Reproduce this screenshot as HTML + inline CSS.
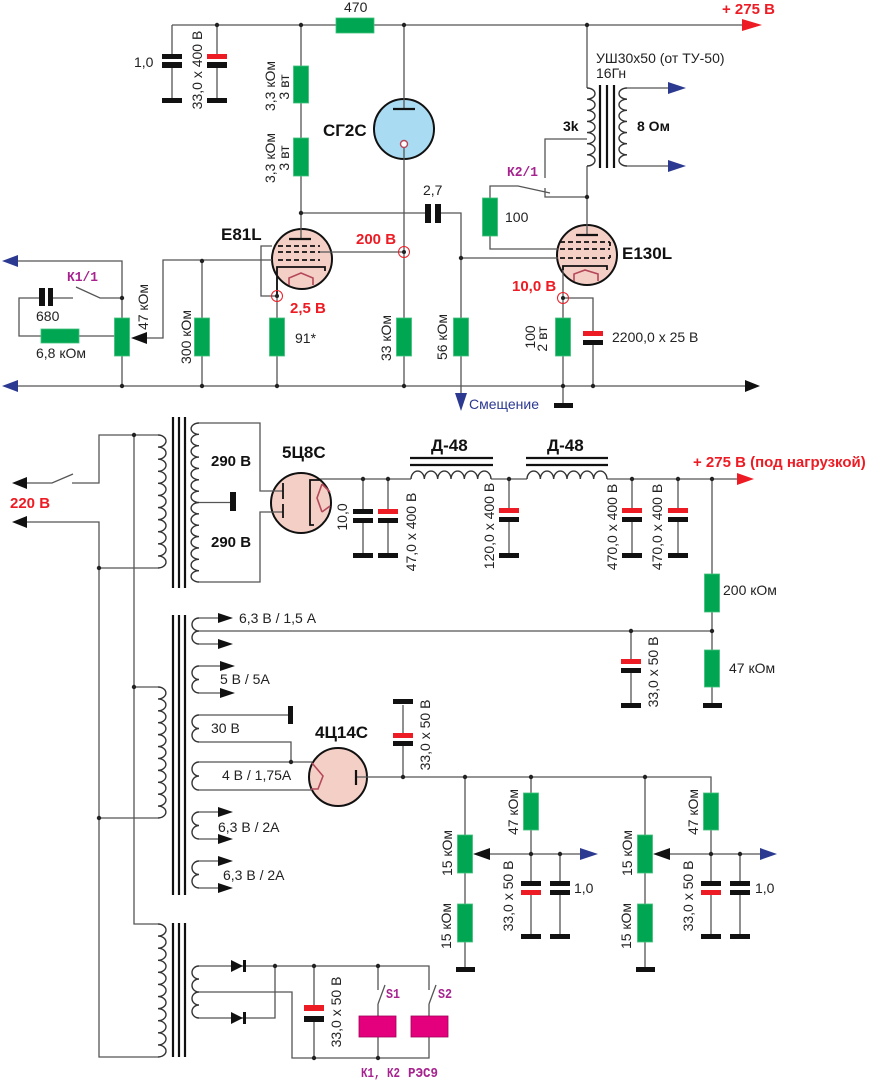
<!DOCTYPE html>
<html><head><meta charset="utf-8">
<style>
html,body{margin:0;padding:0;background:#fff;}
svg{display:block;}
.t{font-family:"Liberation Sans",Arial,sans-serif;font-size:14px;fill:#222;}
.b{font-family:"Liberation Sans",Arial,sans-serif;font-size:17px;font-weight:bold;fill:#111;}
.bm{font-family:"Liberation Sans",Arial,sans-serif;font-size:15px;font-weight:bold;fill:#111;}
.r{font-family:"Liberation Sans",Arial,sans-serif;font-size:15px;font-weight:bold;fill:#ed1c24;}
.k{font-family:"Liberation Mono",monospace;font-size:14px;font-weight:bold;fill:#a6228f;}
.bl{font-family:"Liberation Sans",Arial,sans-serif;font-size:14px;fill:#2b3990;}
</style></head>
<body>
<svg width="871" height="1080" viewBox="0 0 871 1080" xmlns="http://www.w3.org/2000/svg">
<rect width="871" height="1080" fill="#fff"/>

<!-- tube bodies -->
<circle cx="404" cy="129" r="30" fill="#a9dcf3" stroke="#111" stroke-width="2"/>
<circle cx="302" cy="259" r="30" fill="#f4cfc6" stroke="#111" stroke-width="2"/>
<circle cx="587" cy="255" r="30" fill="#f4cfc6" stroke="#111" stroke-width="2"/>
<circle cx="301" cy="503" r="30" fill="#f4cfc6" stroke="#111" stroke-width="2"/>
<circle cx="338" cy="777" r="29" fill="#f4cfc6" stroke="#111" stroke-width="2"/>

<!-- wires -->
<g fill="none" stroke="#555" stroke-width="1.3">
 <path d="M172 25H742"/>
 <path d="M172 25V54M172 67V98"/>
 <path d="M217 25V54M217 67V98"/>
 <path d="M301 25V239"/>
 <path d="M404 25V109"/>
 <path d="M404 148V386"/>
 <path d="M587 25V88"/>
 <path d="M587 166V235"/>
 <path d="M587 139H545V178M545 188V197H587"/>
 <path d="M490 198V186H518L550 193"/>
 <path d="M301 213H425M441 213H461V395"/>
 <path d="M461 258H558"/>
 <path d="M490 236V249H558"/>
 <path d="M320 252H404"/>
 <path d="M272 246H261V296H277"/>
 <path d="M272 260H163V338H147"/>
 <path d="M18 261H122V386"/>
 <path d="M122 298H100L76 287M73 298H53M39 298H19V336H41M79 336H115"/>
 <path d="M202 261V386"/>
 <path d="M277 267V386"/>
 <path d="M563 266V403"/>
 <path d="M563 298H593V331M593 345V386"/>
 <path d="M18 386H745"/>
 <path d="M627 88H668M627 166H668"/>

 <!-- power section -->
 <path d="M27 483H52L73 474"/>
 <path d="M72 483H99V435H158"/>
 <path d="M27 522H99V1057H158"/>
 <path d="M99 568H158"/>
 <path d="M134 435V924H158"/>
 <path d="M134 687H158"/>
 <path d="M99 818H158"/>
 <path d="M199 423H260V491H283"/>
 <path d="M199 502.5H230"/>
 <path d="M199 582H260V512H283"/>
 <path d="M320 479H411M491 479H527M607 479H737"/>
 <path d="M363 479V509M363 523V553"/>
 <path d="M388 479V509M388 523V553"/>
 <path d="M509 479V508M509 522V553"/>
 <path d="M632 479V508M632 522V553"/>
 <path d="M678 479V508M678 522V553"/>
 <path d="M712 479V704"/>
 <path d="M199 631H712"/>
 <path d="M631 631V659M631 672V703"/>
 <path d="M199 618H220M199 644H220"/>
 <path d="M199 666H222M199 693H222"/>
 <path d="M199 715H288"/>
 <path d="M199 742H291V762"/>
 <path d="M199 762H312M199 790H312"/>
 <path d="M199 812H220M199 839H220M199 861H220M199 888H220"/>
 <path d="M356 777H711V881M711 895V934"/>
 <path d="M403 777V746M403 733V705"/>
 <path d="M465 777V967"/>
 <path d="M531 777V881M531 895V934"/>
 <path d="M560 854V881M560 895V934"/>
 <path d="M490 854H580"/>
 <path d="M645 777V967"/>
 <path d="M740 854V881M740 895V934"/>
 <path d="M670 854H760"/>
 <path d="M199 966H429V990"/>
 <path d="M199 1018H275V966"/>
 <path d="M199 992H292V1058H429V1037"/>
 <path d="M378 1037V1058"/>
 <path d="M314 966V1005M314 1022V1058"/>
 <path d="M378 966V990M378 1004L385 985M378 1004V1016"/>
 <path d="M429 1004L436 985M429 1004V1016"/>
</g>

<!-- coils -->
<g fill="none" stroke="#333" stroke-width="1.4">
 <path d="M587 88a8 5.571 0 0 1 0 11.143a8 5.571 0 0 1 0 11.143a8 5.571 0 0 1 0 11.143a8 5.571 0 0 1 0 11.143a8 5.571 0 0 1 0 11.143a8 5.571 0 0 1 0 11.143a8 5.571 0 0 1 0 11.143"/>
 <path d="M627 88a8 5.571 0 0 0 0 11.143a8 5.571 0 0 0 0 11.143a8 5.571 0 0 0 0 11.143a8 5.571 0 0 0 0 11.143a8 5.571 0 0 0 0 11.143a8 5.571 0 0 0 0 11.143a8 5.571 0 0 0 0 11.143"/>
 <path d="M158 435a8 6.045 0 0 1 0 12.09a8 6.045 0 0 1 0 12.09a8 6.045 0 0 1 0 12.09a8 6.045 0 0 1 0 12.09a8 6.045 0 0 1 0 12.09a8 6.045 0 0 1 0 12.09a8 6.045 0 0 1 0 12.09a8 6.045 0 0 1 0 12.09a8 6.045 0 0 1 0 12.09a8 6.045 0 0 1 0 12.09a8 6.045 0 0 1 0 12.09"/>
 <path d="M199 423a8 5.679 0 0 0 0 11.357a8 5.679 0 0 0 0 11.357a8 5.679 0 0 0 0 11.357a8 5.679 0 0 0 0 11.357a8 5.679 0 0 0 0 11.357a8 5.679 0 0 0 0 11.357a8 5.679 0 0 0 0 11.357a8 5.679 0 0 0 0 11.357a8 5.679 0 0 0 0 11.357a8 5.679 0 0 0 0 11.357a8 5.679 0 0 0 0 11.357a8 5.679 0 0 0 0 11.357a8 5.679 0 0 0 0 11.357a8 5.679 0 0 0 0 11.357"/>
 <path d="M158 687a8 5.955 0 0 1 0 11.909a8 5.955 0 0 1 0 11.909a8 5.955 0 0 1 0 11.909a8 5.955 0 0 1 0 11.909a8 5.955 0 0 1 0 11.909a8 5.955 0 0 1 0 11.909a8 5.955 0 0 1 0 11.909a8 5.955 0 0 1 0 11.909a8 5.955 0 0 1 0 11.909a8 5.955 0 0 1 0 11.909a8 5.955 0 0 1 0 11.909"/>
 <path d="M199 618a7 6.5 0 0 0 0 13a7 6.5 0 0 0 0 13"/>
 <path d="M199 666a7 6.75 0 0 0 0 13.5a7 6.75 0 0 0 0 13.5"/>
 <path d="M199 715a7 6.75 0 0 0 0 13.5a7 6.75 0 0 0 0 13.5"/>
 <path d="M199 762a7 7 0 0 0 0 14a7 7 0 0 0 0 14"/>
 <path d="M199 812a7 6.75 0 0 0 0 13.5a7 6.75 0 0 0 0 13.5"/>
 <path d="M199 861a7 6.75 0 0 0 0 13.5a7 6.75 0 0 0 0 13.5"/>
 <path d="M158 924a8 6.045 0 0 1 0 12.09a8 6.045 0 0 1 0 12.09a8 6.045 0 0 1 0 12.09a8 6.045 0 0 1 0 12.09a8 6.045 0 0 1 0 12.09a8 6.045 0 0 1 0 12.09a8 6.045 0 0 1 0 12.09a8 6.045 0 0 1 0 12.09a8 6.045 0 0 1 0 12.09a8 6.045 0 0 1 0 12.09a8 6.045 0 0 1 0 12.09"/>
 <path d="M199 966a7 6.5 0 0 0 0 13a7 6.5 0 0 0 0 13a7 6.5 0 0 0 0 13a7 6.5 0 0 0 0 13"/>
 <path d="M411 479a6.667 8 0 0 1 13.333 0a6.667 8 0 0 1 13.333 0a6.667 8 0 0 1 13.333 0a6.667 8 0 0 1 13.333 0a6.667 8 0 0 1 13.333 0a6.667 8 0 0 1 13.333 0"/>
 <path d="M527 479a6.667 8 0 0 1 13.333 0a6.667 8 0 0 1 13.333 0a6.667 8 0 0 1 13.333 0a6.667 8 0 0 1 13.333 0a6.667 8 0 0 1 13.333 0a6.667 8 0 0 1 13.333 0"/>
</g>

<!-- cores -->
<g stroke="#111" stroke-width="2.2">
 <path d="M600 85V168M607 85V168M614 85V168"/>
 <path d="M173 417V588M179 417V588M185 417V588"/>
 <path d="M173 615V895M179 615V895M185 615V895"/>
 <path d="M173 923V1057M179 923V1057M185 923V1057"/>
 <path d="M410 458H493M410 465H493"/>
 <path d="M526 458H608M526 465H608"/>
</g>

<!-- tube internals -->
<g fill="none" stroke="#111" stroke-width="1.8">
 <path d="M393 109H415" stroke-width="2.2"/>
 <path d="M289 239H311" stroke-width="2.2"/>
 <path d="M278 246H320M278 252H320M278 260H320" stroke-dasharray="5 3"/>
 <path d="M277 296V267H325V271"/>
 <path d="M576 235H598" stroke-width="2.2"/>
 <path d="M560 242H610M560 249H610M560 258H610" stroke-dasharray="5 3"/>
 <path d="M610 242V246M610 255V258"/>
 <path d="M563 270V266H607V270"/>
 <path d="M283 483V499M283 504V518"/>
 <path d="M321 480H310V525H314"/>
 <path d="M356 770V785" stroke-width="2.2"/>
</g>
<g fill="none" stroke="#b5485a" stroke-width="1.6">
 <path d="M289 285V278L301 273L313 278V285"/>
 <path d="M574 281V274L585 270L598 274V281"/>
 <path d="M322 484L317 498L322 512M322 484L330 492M322 512L330 506"/>
 <path d="M312 763L323 776L318 789L311 789"/>
</g>
<circle cx="404" cy="144" r="3.5" fill="#fff" stroke="#b5485a" stroke-width="1.4"/>

<!-- resistors -->
<g fill="#00a651" stroke="#3fc07a" stroke-width="0.8">
 <rect x="336" y="18" width="38" height="15"/>
 <rect x="293.5" y="66" width="15" height="37"/>
 <rect x="293.5" y="138" width="15" height="38"/>
 <rect x="114.5" y="318" width="15" height="38"/>
 <rect x="194.5" y="318" width="15" height="38"/>
 <rect x="269.5" y="318" width="15" height="38"/>
 <rect x="396.5" y="318" width="15" height="38"/>
 <rect x="453.5" y="318" width="15" height="38"/>
 <rect x="482.5" y="198" width="15" height="38"/>
 <rect x="555.5" y="318" width="15" height="38"/>
 <rect x="41" y="329" width="38" height="14"/>
 <rect x="704.5" y="574" width="15" height="38"/>
 <rect x="704.5" y="650" width="15" height="37"/>
 <rect x="457.5" y="835" width="15" height="38"/>
 <rect x="523.5" y="793" width="15" height="37"/>
 <rect x="457.5" y="904" width="15" height="38"/>
 <rect x="637.5" y="835" width="15" height="38"/>
 <rect x="703.5" y="793" width="15" height="37"/>
 <rect x="637.5" y="904" width="15" height="38"/>
</g>

<!-- capacitors and ground bars -->
<g fill="#111">
 <rect x="162" y="54" width="20" height="5"/><rect x="162" y="62" width="20" height="6"/><rect x="162" y="98" width="20" height="5"/>
 <rect x="207" y="62" width="20" height="6"/><rect x="207" y="98" width="20" height="5"/>
 <rect x="425" y="204" width="6" height="19"/><rect x="435" y="204" width="6" height="19"/>
 <rect x="39" y="288" width="6" height="18"/><rect x="48" y="288" width="5" height="18"/>
 <rect x="583" y="340" width="20" height="5"/>
 <rect x="554" y="403" width="19" height="5"/>
 <rect x="230" y="492" width="6" height="19"/>
 <rect x="288" y="706" width="5" height="18"/>
 <rect x="353" y="509" width="20" height="5"/><rect x="353" y="518" width="20" height="5"/><rect x="353" y="553" width="20" height="5"/>
 <rect x="378" y="518" width="20" height="5"/><rect x="378" y="553" width="20" height="5"/>
 <rect x="499" y="517" width="20" height="5"/><rect x="499" y="553" width="20" height="5"/>
 <rect x="622" y="517" width="20" height="5"/><rect x="622" y="553" width="20" height="5"/>
 <rect x="668" y="517" width="20" height="5"/><rect x="668" y="553" width="20" height="5"/>
 <rect x="621" y="668" width="20" height="5"/><rect x="621" y="703" width="20" height="5"/>
 <rect x="703" y="703" width="19" height="5"/>
 <rect x="393" y="699" width="20" height="5"/><rect x="393" y="741" width="20" height="5"/>
 <rect x="521" y="881" width="20" height="5"/><rect x="521" y="934" width="20" height="5"/>
 <rect x="550" y="881" width="20" height="5"/><rect x="550" y="890" width="20" height="5"/><rect x="550" y="934" width="20" height="5"/>
 <rect x="456" y="967" width="19" height="5"/>
 <rect x="701" y="881" width="20" height="5"/><rect x="701" y="934" width="20" height="5"/>
 <rect x="730" y="881" width="20" height="5"/><rect x="730" y="890" width="20" height="5"/><rect x="730" y="934" width="20" height="5"/>
 <rect x="636" y="967" width="19" height="5"/>
 <rect x="304" y="1016" width="20" height="6"/>
 <polygon points="231,960 231,972 243,966"/><rect x="243" y="960" width="3" height="12"/>
 <polygon points="231,1012 231,1024 243,1018"/><rect x="243" y="1012" width="3" height="12"/>
</g>
<g fill="#ed1c24">
 <rect x="207" y="54" width="20" height="5"/>
 <rect x="583" y="331" width="20" height="5"/>
 <rect x="378" y="509" width="20" height="5"/>
 <rect x="499" y="508" width="20" height="5"/>
 <rect x="622" y="508" width="20" height="5"/>
 <rect x="668" y="508" width="20" height="5"/>
 <rect x="621" y="659" width="20" height="5"/>
 <rect x="393" y="733" width="20" height="5"/>
 <rect x="521" y="890" width="20" height="5"/>
 <rect x="701" y="890" width="20" height="5"/>
 <rect x="304" y="1005" width="20" height="6"/>
</g>

<!-- relays -->
<rect x="359" y="1016" width="37" height="21" fill="#e4007c" stroke="#a0005a" stroke-width="0.8"/>
<rect x="411" y="1016" width="37" height="21" fill="#e4007c" stroke="#a0005a" stroke-width="0.8"/>

<!-- arrows -->
<g fill="#ed1c24">
 <polygon points="742,19 742,31 762,25"/>
 <polygon points="737,473 737,485 754,479"/>
</g>
<g fill="#2b3990">
 <polygon points="668,82 668,94 686,88"/>
 <polygon points="668,160 668,172 686,166"/>
 <polygon points="2,261 18,255 18,267"/>
 <polygon points="2,386 18,380 18,392"/>
 <polygon points="455,393 467,393 461,411"/>
 <polygon points="580,848 580,860 598,854"/>
 <polygon points="760,848 760,860 777,854"/>
</g>
<g fill="#111">
 <polygon points="745,380 745,392 760,386"/>
 <polygon points="12,483 27,477 27,489"/>
 <polygon points="12,522 27,516 27,528"/>
 <polygon points="131,338 147,332 147,344"/>
 <polygon points="473,854 490,848 490,860"/>
 <polygon points="653,854 670,848 670,860"/>
 <polygon points="218,613 218,623 233,618"/>
 <polygon points="218,639 218,649 233,644"/>
 <polygon points="220,661 220,671 235,666"/>
 <polygon points="220,688 220,698 235,693"/>
 <polygon points="218,807 218,817 233,812"/>
 <polygon points="218,834 218,844 233,839"/>
 <polygon points="218,856 218,866 233,861"/>
 <polygon points="218,883 218,893 233,888"/>
</g>

<!-- junction dots -->
<g fill="#222">
 <circle cx="217" cy="25" r="2.2"/><circle cx="301" cy="25" r="2.2"/><circle cx="404" cy="25" r="2.2"/><circle cx="587" cy="25" r="2.2"/>
 <circle cx="301" cy="213" r="2.2"/><circle cx="404" cy="252" r="2"/><circle cx="461" cy="258" r="2.2"/><circle cx="587" cy="197" r="2.2"/>
 <circle cx="122" cy="298" r="2.2"/><circle cx="122" cy="386" r="2.2"/><circle cx="202" cy="261" r="2.2"/><circle cx="202" cy="386" r="2.2"/>
 <circle cx="277" cy="386" r="2.2"/><circle cx="277" cy="296" r="2"/><circle cx="404" cy="386" r="2.2"/><circle cx="563" cy="386" r="2.2"/>
 <circle cx="593" cy="386" r="2.2"/><circle cx="563" cy="298" r="2"/>
 <circle cx="134" cy="435" r="2.2"/><circle cx="99" cy="568" r="2.2"/>
 <circle cx="363" cy="479" r="2.2"/><circle cx="388" cy="479" r="2.2"/><circle cx="509" cy="479" r="2.2"/><circle cx="632" cy="479" r="2.2"/><circle cx="678" cy="479" r="2.2"/><circle cx="712" cy="479" r="2.2"/>
 <circle cx="712" cy="631" r="2.2"/><circle cx="631" cy="631" r="2.2"/><circle cx="134" cy="687" r="2.2"/><circle cx="99" cy="818" r="2.2"/>
 <circle cx="291" cy="762" r="2.2"/><circle cx="403" cy="777" r="2.2"/><circle cx="465" cy="777" r="2.2"/><circle cx="531" cy="777" r="2.2"/><circle cx="645" cy="777" r="2.2"/>
 <circle cx="531" cy="854" r="2.2"/><circle cx="560" cy="854" r="2.2"/><circle cx="711" cy="854" r="2.2"/><circle cx="740" cy="854" r="2.2"/>
 <circle cx="275" cy="966" r="2.2"/><circle cx="314" cy="966" r="2.2"/><circle cx="378" cy="966" r="2.2"/><circle cx="314" cy="1058" r="2.2"/><circle cx="378" cy="1058" r="2.2"/>
</g>
<g fill="none" stroke="#ed1c24" stroke-width="1">
 <circle cx="404" cy="252" r="5.5"/><circle cx="277" cy="296" r="5.5"/><circle cx="563" cy="298" r="5.5"/>
</g>

<!-- horizontal labels -->
<text class="t" x="344" y="12">470</text>
<text class="r" x="722" y="14">+ 275 В</text>
<text class="t" x="134" y="67">1,0</text>
<text class="b" x="323" y="136">СГ2С</text>
<text class="t" x="596" y="63">УШ30х50 (от ТУ-50)</text>
<text class="t" x="596" y="78">16Гн</text>
<text class="bm" x="563" y="131" style="font-size:14px">3k</text>
<text class="bm" x="637" y="131" style="font-size:14px">8 Ом</text>
<text class="k" x="507" y="176" textLength="31" lengthAdjust="spacingAndGlyphs">К2/1</text>
<text class="t" x="423" y="195">2,7</text>
<text class="b" x="221" y="240">E81L</text>
<text class="r" x="356" y="244">200 В</text>
<text class="k" x="67" y="281" textLength="31" lengthAdjust="spacingAndGlyphs">К1/1</text>
<text class="t" x="36" y="321">680</text>
<text class="t" x="36" y="358">6,8 кОм</text>
<text class="r" x="290" y="313">2,5 В</text>
<text class="t" x="295" y="343">91*</text>
<text class="t" x="505" y="222">100</text>
<text class="b" x="622" y="259">E130L</text>
<text class="r" x="512" y="291">10,0 В</text>
<text class="t" x="612" y="342">2200,0 х 25 В</text>
<text class="bl" x="469" y="409">Смещение</text>

<text class="bm" x="211" y="466">290 В</text>
<text class="bm" x="211" y="547">290 В</text>
<text class="b" x="282" y="458">5Ц8С</text>
<text class="r" x="10" y="508">220 В</text>
<text class="b" x="431" y="451">Д-48</text>
<text class="b" x="547" y="451">Д-48</text>
<text class="r" x="693" y="467">+ 275 В (под нагрузкой)</text>
<text class="t" x="723" y="595">200 кОм</text>
<text class="t" x="239" y="623">6,3 В / 1,5 А</text>
<text class="t" x="220" y="684">5 В / 5А</text>
<text class="t" x="211" y="733">30 В</text>
<text class="t" x="222" y="780">4 В / 1,75А</text>
<text class="t" x="218" y="832">6,3 В / 2А</text>
<text class="t" x="223" y="880">6,3 В / 2А</text>
<text class="b" x="315" y="738">4Ц14С</text>
<text class="t" x="729" y="673">47 кОм</text>
<text class="t" x="574" y="893">1,0</text>
<text class="t" x="755" y="893">1,0</text>
<text class="k" x="386" y="998" textLength="14" lengthAdjust="spacingAndGlyphs">S1</text>
<text class="k" x="438" y="998" textLength="14" lengthAdjust="spacingAndGlyphs">S2</text>
<text class="k" x="361" y="1077" textLength="39" lengthAdjust="spacingAndGlyphs">К1, К2</text>
<text class="k" x="408" y="1077" textLength="30" lengthAdjust="spacingAndGlyphs">РЭС9</text>

<!-- vertical labels -->
<g class="t" text-anchor="middle" dominant-baseline="central">
 <text transform="translate(197,70) rotate(-90)">33,0 х 400 В</text>
 <text transform="translate(270,86) rotate(-90)">3,3 кОм</text>
 <text transform="translate(284,87) rotate(-90)">3 вт</text>
 <text transform="translate(270,158) rotate(-90)">3,3 кОм</text>
 <text transform="translate(284,158) rotate(-90)">3 вт</text>
 <text transform="translate(143,307) rotate(-90)">47 кОм</text>
 <text transform="translate(186,337) rotate(-90)">300 кОм</text>
 <text transform="translate(386,338) rotate(-90)">33 кОм</text>
 <text transform="translate(442,337) rotate(-90)">56 кОм</text>
 <text transform="translate(530,337) rotate(-90)">100</text>
 <text transform="translate(542,339) rotate(-90)">2 вт</text>
 <text transform="translate(342,517) rotate(-90)">10,0</text>
 <text transform="translate(411,532) rotate(-90)">47,0 х 400 В</text>
 <text transform="translate(489,526) rotate(-90)">120,0 х 400 В</text>
 <text transform="translate(612,527) rotate(-90)">470,0 х 400 В</text>
 <text transform="translate(657,527) rotate(-90)">470,0 х 400 В</text>
 <text transform="translate(653,672) rotate(-90)">33,0 х 50 В</text>
 <text transform="translate(425,735) rotate(-90)">33,0 х 50 В</text>
 <text transform="translate(513,812) rotate(-90)">47 кОм</text>
 <text transform="translate(447,853) rotate(-90)">15 кОм</text>
 <text transform="translate(446,926) rotate(-90)">15 кОм</text>
 <text transform="translate(508,896) rotate(-90)">33,0 х 50 В</text>
 <text transform="translate(693,812) rotate(-90)">47 кОм</text>
 <text transform="translate(627,853) rotate(-90)">15 кОм</text>
 <text transform="translate(626,926) rotate(-90)">15 кОм</text>
 <text transform="translate(688,896) rotate(-90)">33,0 х 50 В</text>
 <text transform="translate(336,1012) rotate(-90)">33,0 х 50 В</text>
</g>
</svg>
</body></html>
